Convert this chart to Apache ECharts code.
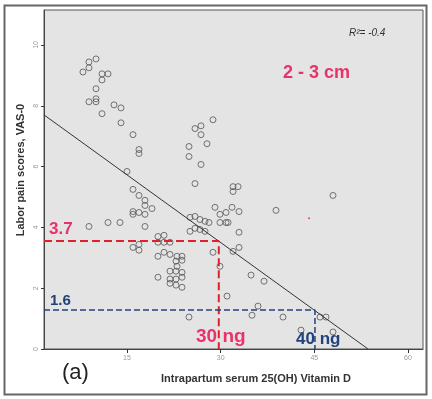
<!DOCTYPE html>
<html>
<head>
<meta charset="utf-8">
<script src="https://cdn.jsdelivr.net/npm/echarts@6/dist/echarts.min.js"></script>
<style>
  html, body { margin: 0; padding: 0; background: #fff; }
  #chart { width: 432px; height: 399px; }
</style>
</head>
<body>
<div id="chart"></div>
<script>
// vitamin D (ng/ml) and VAS pain score
var vitaminD = [7.95, 8.91, 8.91, 10.04, 11.0, 11.96, 11.0, 10.04, 8.91, 10.04, 10.04, 11.0, 12.92, 14.04, 14.04,
  15.96, 16.92, 16.92, 15.0, 15.96, 16.92, 17.88, 17.88, 19.0, 15.96, 15.96, 16.92, 17.88, 17.88, 8.91, 11.96, 13.88,
  15.96, 16.92, 16.92, 19.96, 20.93, 19.96, 20.93, 21.89, 19.96, 20.93, 21.89, 23.01, 23.81, 22.85, 23.81, 23.01,
  21.89, 22.85, 23.81, 19.96, 21.89, 22.85, 23.81, 21.89, 22.85, 23.81, 24.93, 24.93, 24.93, 25.89, 26.85, 26.85,
  27.81, 28.77, 26.85, 25.89, 31.98, 32.78, 31.98, 25.09, 25.89, 26.69, 27.49, 28.13, 25.09, 25.89, 26.69, 27.49,
  29.09, 29.89, 30.86, 31.82, 32.94, 31.18, 29.89, 30.86, 32.94, 28.77, 31.98, 32.94, 29.89, 31.02, 38.86, 34.86,
  36.94, 35.98, 35.02, 39.98, 45.91, 46.87, 42.87, 47.99, 47.99];
var painScore = [9.11, 9.25, 9.44, 9.54, 9.05, 9.05, 8.85, 8.56, 8.13, 8.23, 8.13, 7.74, 8.03, 7.93, 7.44,
  7.05, 6.56, 6.43, 5.84, 5.25, 5.05, 4.89, 4.72, 4.62, 4.52, 4.43, 4.49, 4.43, 4.03, 4.03, 4.16, 4.16,
  3.34, 3.44, 3.25, 3.70, 3.74, 3.51, 3.51, 3.51, 3.05, 3.18, 3.11, 3.05, 3.05, 2.89, 2.92, 2.72,
  2.56, 2.56, 2.52, 2.36, 2.30, 2.30, 2.36, 2.16, 2.10, 2.03, 1.05, 6.66, 6.33, 7.25, 7.34, 7.05,
  6.75, 7.54, 6.07, 5.44, 5.34, 5.34, 5.18, 4.33, 4.36, 4.26, 4.20, 4.16, 3.87, 3.97, 3.93, 3.87,
  4.66, 4.43, 4.49, 4.66, 4.52, 4.16, 4.16, 4.16, 3.84, 3.18, 3.21, 3.34, 2.72, 1.74, 4.56, 2.43,
  2.23, 1.41, 1.11, 1.05, 1.05, 1.05, 0.62, 0.56, 5.05];

var xTicks = [15, 30, 45, 60];
var yTicks = [0, 2, 4, 6, 8, 10];

var fitLine = [[1.71, 7.70], [53.6, 0]];
var redGuide = [[1.71, 3.55], [29.7, 3.55], [29.7, 0]];
var blueGuide = [[1.71, 1.28], [45.1, 1.28], [45.1, 0]];
var redDot = [[44.15, 4.30]];

var points = vitaminD.map(function (v, i) { return [v, painScore[i]]; });

var chart = echarts.init(document.getElementById('chart'));
var pink = '#e8326a';
var navy = '#22417a';

chart.setOption({
  animation: false,
  grid: {
    left: 44, top: 10, width: 379, height: 339,
    show: true, backgroundColor: '#e4e4e4', borderColor: '#555', borderWidth: 1
  },
  xAxis: {
    type: 'value', min: 1.71, max: 62.4,
    splitLine: { show: false },
    axisLine: { lineStyle: { color: '#444' } },
    axisTick: { customValues: xTicks, length: 4, lineStyle: { color: '#333' } },
    axisLabel: { customValues: xTicks, fontSize: 7, color: '#999', margin: 6 }
  },
  yAxis: {
    type: 'value', min: 0, max: 11.15,
    splitLine: { show: false },
    axisLine: { lineStyle: { color: '#444' } },
    axisTick: { customValues: yTicks, length: 3, lineStyle: { color: '#333' } },
    axisLabel: { customValues: yTicks, fontSize: 7, color: '#999', rotate: 90, margin: 4 }
  },
  series: [
    {
      type: 'line', data: fitLine, symbol: 'none', silent: true,
      lineStyle: { color: '#333', width: 1 }
    },
    {
      type: 'line', data: redGuide, symbol: 'none', silent: true,
      lineStyle: { color: '#e2202c', width: 2, type: [8, 4] }
    },
    {
      type: 'line', data: blueGuide, symbol: 'none', silent: true,
      lineStyle: { color: navy, width: 1.5, type: [6, 3] }
    },
    {
      type: 'scatter', data: points, symbol: 'circle', symbolSize: 6,
      itemStyle: { color: 'rgba(0,0,0,0)', borderColor: '#555', borderWidth: 1 }
    },
    {
      type: 'scatter', data: redDot, symbolSize: 2,
      itemStyle: { color: '#e2202c' }
    }
  ],
  graphic: [
    { type: 'rect', shape: { x: 4.5, y: 5.5, width: 422, height: 389 },
      style: { fill: 'none', stroke: '#666', lineWidth: 2 }, z: 100 },
    { type: 'text', x: 349, y: 28, style: { text: 'R²= -0.4', font: 'italic 10px "Liberation Sans"', fill: '#333' } },
    { type: 'text', x: 283, y: 64, style: { text: '2 - 3 cm', font: 'bold 18px "Liberation Sans"', fill: pink } },
    { type: 'text', x: 49, y: 221, style: { text: '3.7', font: 'bold 17px "Liberation Sans"', fill: pink } },
    { type: 'text', x: 50, y: 293, style: { text: '1.6', font: 'bold 15px "Liberation Sans"', fill: navy } },
    { type: 'text', x: 196, y: 327, style: { text: '30 ng', font: 'bold 19px "Liberation Sans"', fill: pink } },
    { type: 'text', x: 296, y: 331, style: { text: '40 ng', font: 'bold 17px "Liberation Sans"', fill: navy } },
    { type: 'text', x: 62, y: 362, style: { text: '(a)', font: '22px "Liberation Sans"', fill: '#222' } },
    { type: 'text', x: 256, y: 379, style: { text: 'Intrapartum serum 25(OH) Vitamin D', font: 'bold 11px "Liberation Sans"',
      fill: '#333', align: 'center', verticalAlign: 'middle' } },
    { type: 'text', x: 21, y: 170, rotation: Math.PI / 2, style: { text: 'Labor pain scores, VAS-0', font: 'bold 11px "Liberation Sans"',
      fill: '#333', align: 'center', verticalAlign: 'middle' } }
  ]
});
</script>
</body>
</html>
